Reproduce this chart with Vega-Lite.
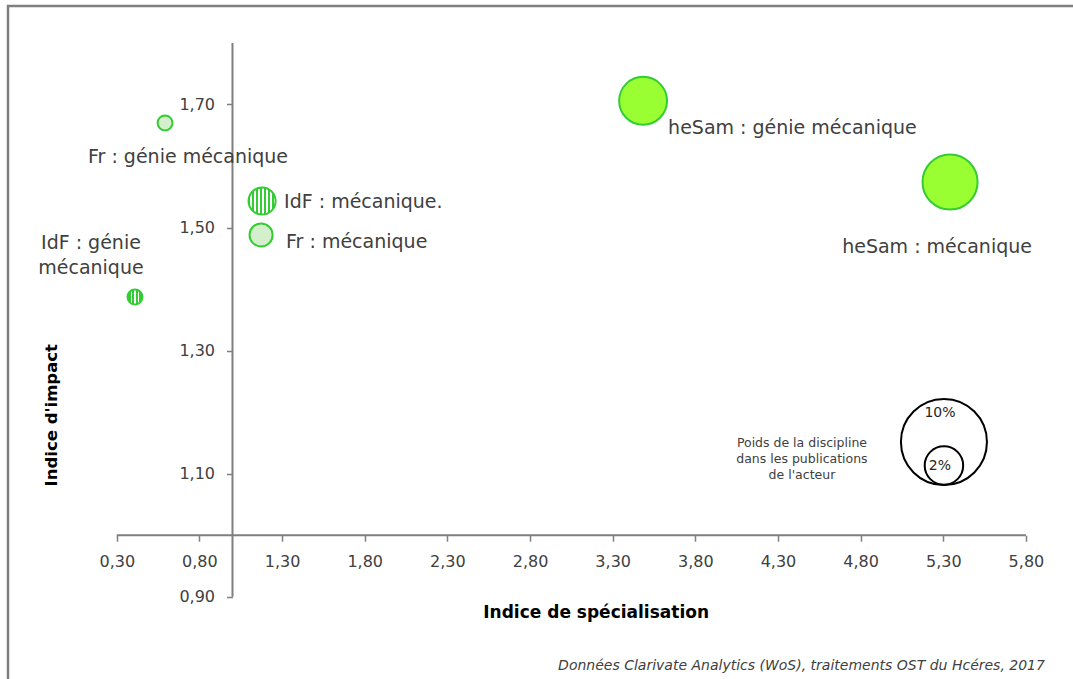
{
  "$schema": "https://vega.github.io/schema/vega-lite/v6.json",
  "width": 1070,
  "height": 680,
  "autosize": {"type": "none"},
  "padding": {"left": 8, "top": 6, "right": 0, "bottom": 0},
  "background": "white",
  "config": {
    "view": {"stroke": "#7f7f7f", "strokeWidth": 2.5},
    "font": "DejaVu Sans",
    "text": {"font": "DejaVu Sans"}
  },
  "datasets": {
    "bulles": [
      {"label": "Fr : génie mécanique", "specialisation": 0.592, "impact": 1.670, "poids": 0.30, "motif": "points"},
      {"label": "IdF : mécanique.", "specialisation": 1.179, "impact": 1.543, "poids": 0.99, "motif": "rayures"},
      {"label": "Fr : mécanique", "specialisation": 1.173, "impact": 1.488, "poids": 0.72, "motif": "points"},
      {"label": "IdF : génie\nmécanique", "specialisation": 0.410, "impact": 1.387, "poids": 0.30, "motif": "rayures fines"},
      {"label": "heSam : génie mécanique", "specialisation": 3.484, "impact": 1.706, "poids": 3.1, "motif": "plein"},
      {"label": "heSam : mécanique", "specialisation": 5.341, "impact": 1.574, "poids": 4.1, "motif": "plein"}
    ],
    "legende": [
      {"label": "10%", "specialisation": 5.304, "impact": 1.1515, "poids": 10},
      {"label": "2%", "specialisation": 5.304, "impact": 1.1133, "poids": 2}
    ]
  },
  "encoding": {
    "x": {
      "field": "specialisation",
      "type": "quantitative",
      "scale": {"domain": [-0.358, 6.115], "nice": false, "zero": false},
      "axis": {
        "values": [0.3, 0.8, 1.3, 1.8, 2.3, 2.8, 3.3, 3.8, 4.3, 4.8, 5.3, 5.8],
        "labelExpr": "replace(format(datum.value, '.2f'), '.', ',')",
        "domain": false, "grid": false, "offset": -150.8,
        "tickSize": 6, "tickColor": "#7f7f7f", "tickWidth": 1.5,
        "labelFontSize": 16, "labelColor": "#404040", "labelPadding": 12,
        "labelFont": "DejaVu Sans", "title": null
      }
    },
    "y": {
      "field": "impact",
      "type": "quantitative",
      "scale": {"domain": [0.755, 1.86], "nice": false, "zero": false},
      "axis": {
        "values": [0.9, 1.1, 1.3, 1.5, 1.7],
        "labelExpr": "replace(format(datum.value, '.2f'), '.', ',')",
        "domain": false, "grid": false, "offset": -224.5,
        "tickSize": 6, "tickColor": "#7f7f7f", "tickWidth": 1.5,
        "labelFontSize": 16, "labelColor": "#404040", "labelPadding": 12,
        "labelFont": "DejaVu Sans", "title": null
      }
    },
    "size": {
      "field": "poids",
      "type": "quantitative",
      "scale": {"type": "linear", "domain": [0, 10], "range": [0, 7400], "zero": true},
      "legend": null
    }
  },
  "layer": [
    {
      "data": {"name": "legende"},
      "transform": [{"filter": "datum.label === '10%'"}],
      "mark": {"type": "rule", "color": "#7f7f7f", "strokeWidth": 2},
      "encoding": {"x": {"datum": 0.3, "type": "quantitative"}, "x2": {"datum": 5.8}, "y": {"datum": 1.0, "type": "quantitative"}, "size": {"value": 2}}
    },
    {
      "data": {"name": "legende"},
      "transform": [{"filter": "datum.label === '10%'"}],
      "mark": {"type": "rule", "color": "#7f7f7f", "strokeWidth": 2},
      "encoding": {"x": {"datum": 1.0, "type": "quantitative"}, "y": {"datum": 0.9, "type": "quantitative"}, "y2": {"datum": 1.8}, "size": {"value": 2}}
    },
    {
      "data": {"name": "bulles"},
      "transform": [{"filter": "datum.motif === 'plein'"}],
      "mark": {"type": "circle", "fill": "#99ff33", "stroke": "#33cc33", "strokeWidth": 2, "opacity": 1}
    },
    {
      "data": {"name": "bulles"},
      "transform": [{"filter": "datum.motif === 'points'"}],
      "mark": {"type": "circle", "fill": "#d3efcb", "stroke": "#33cc33", "strokeWidth": 2, "opacity": 1}
    },
    {
      "data": {"name": "bulles"},
      "transform": [{"filter": "datum.motif === 'rayures'"}],
      "mark": {
        "type": "circle", "stroke": "#33cc33", "strokeWidth": 2, "opacity": 1,
        "fill": {
          "gradient": "linear", "x1": 0, "y1": 0, "x2": 1, "y2": 0,
          "stops": [
            {"offset": 0, "color": "#33cc33"}, {"offset": 0.0714, "color": "#33cc33"},
            {"offset": 0.0714, "color": "#ffffff"}, {"offset": 0.1429, "color": "#ffffff"},
            {"offset": 0.1429, "color": "#33cc33"}, {"offset": 0.2143, "color": "#33cc33"},
            {"offset": 0.2143, "color": "#ffffff"}, {"offset": 0.2857, "color": "#ffffff"},
            {"offset": 0.2857, "color": "#33cc33"}, {"offset": 0.3571, "color": "#33cc33"},
            {"offset": 0.3571, "color": "#ffffff"}, {"offset": 0.4286, "color": "#ffffff"},
            {"offset": 0.4286, "color": "#33cc33"}, {"offset": 0.5, "color": "#33cc33"},
            {"offset": 0.5, "color": "#ffffff"}, {"offset": 0.5714, "color": "#ffffff"},
            {"offset": 0.5714, "color": "#33cc33"}, {"offset": 0.6429, "color": "#33cc33"},
            {"offset": 0.6429, "color": "#ffffff"}, {"offset": 0.7143, "color": "#ffffff"},
            {"offset": 0.7143, "color": "#33cc33"}, {"offset": 0.7857, "color": "#33cc33"},
            {"offset": 0.7857, "color": "#ffffff"}, {"offset": 0.8571, "color": "#ffffff"},
            {"offset": 0.8571, "color": "#33cc33"}, {"offset": 0.9286, "color": "#33cc33"},
            {"offset": 0.9286, "color": "#ffffff"}, {"offset": 1, "color": "#ffffff"}
          ]
        }
      }
    },
    {
      "data": {"name": "bulles"},
      "transform": [{"filter": "datum.motif === 'rayures fines'"}],
      "mark": {
        "type": "circle", "stroke": "#33cc33", "strokeWidth": 2, "opacity": 1,
        "fill": {
          "gradient": "linear", "x1": 0, "y1": 0, "x2": 1, "y2": 0,
          "stops": [
            {"offset": 0, "color": "#33cc33"}, {"offset": 0.24, "color": "#33cc33"},
            {"offset": 0.24, "color": "#ffffff"}, {"offset": 0.33, "color": "#ffffff"},
            {"offset": 0.33, "color": "#33cc33"}, {"offset": 0.46, "color": "#33cc33"},
            {"offset": 0.46, "color": "#ffffff"}, {"offset": 0.55, "color": "#ffffff"},
            {"offset": 0.55, "color": "#33cc33"}, {"offset": 0.68, "color": "#33cc33"},
            {"offset": 0.68, "color": "#ffffff"}, {"offset": 0.77, "color": "#ffffff"},
            {"offset": 0.77, "color": "#33cc33"}, {"offset": 1, "color": "#33cc33"}
          ]
        }
      }
    },
    {
      "data": {"name": "legende"},
      "mark": {"type": "circle", "fill": null, "stroke": "#000000", "strokeWidth": 2, "opacity": 1, "filled": false}
    },
    {
      "data": {"name": "bulles"},
      "transform": [{"filter": "datum.label === 'Fr : génie mécanique'"}],
      "mark": {"type": "text", "fontSize": 19, "color": "#404040", "align": "center", "baseline": "middle", "dx": 23, "dy": 34},
      "encoding": {"text": {"field": "label"}, "size": {"value": 19}}
    },
    {
      "data": {"name": "bulles"},
      "transform": [{"filter": "datum.label === 'IdF : mécanique.'"}],
      "mark": {"type": "text", "fontSize": 19, "color": "#404040", "align": "left", "baseline": "middle", "dx": 22, "dy": 1},
      "encoding": {"text": {"field": "label"}, "size": {"value": 19}}
    },
    {
      "data": {"name": "bulles"},
      "transform": [{"filter": "datum.label === 'Fr : mécanique'"}],
      "mark": {"type": "text", "fontSize": 19, "color": "#404040", "align": "left", "baseline": "middle", "dx": 25, "dy": 7},
      "encoding": {"text": {"field": "label"}, "size": {"value": 19}}
    },
    {
      "data": {"name": "bulles"},
      "transform": [{"filter": "datum.motif === 'rayures fines'"}],
      "mark": {"type": "text", "fontSize": 19, "color": "#404040", "align": "center", "baseline": "middle", "dx": -44, "dy": -54, "lineBreak": "\n", "lineHeight": 25},
      "encoding": {"text": {"field": "label"}, "size": {"value": 19}}
    },
    {
      "data": {"name": "bulles"},
      "transform": [{"filter": "datum.label === 'heSam : génie mécanique'"}],
      "mark": {"type": "text", "fontSize": 19, "color": "#404040", "align": "left", "baseline": "middle", "dx": 25, "dy": 27},
      "encoding": {"text": {"field": "label"}, "size": {"value": 19}}
    },
    {
      "data": {"name": "bulles"},
      "transform": [{"filter": "datum.label === 'heSam : mécanique'"}],
      "mark": {"type": "text", "fontSize": 19, "color": "#404040", "align": "center", "baseline": "middle", "dx": -13, "dy": 65},
      "encoding": {"text": {"field": "label"}, "size": {"value": 19}}
    },
    {
      "data": {"name": "legende"},
      "transform": [{"filter": "datum.label === '10%'"}],
      "mark": {"type": "text", "fontSize": 14, "color": "#262626", "align": "center", "baseline": "middle", "dx": -4, "dy": -29},
      "encoding": {"text": {"field": "label"}, "size": {"value": 14}}
    },
    {
      "data": {"name": "legende"},
      "transform": [{"filter": "datum.label === '2%'"}],
      "mark": {"type": "text", "fontSize": 14, "color": "#262626", "align": "center", "baseline": "middle", "dx": -4, "dy": 0},
      "encoding": {"text": {"field": "label"}, "size": {"value": 14}}
    },
    {
      "data": {"name": "legende"},
      "transform": [{"filter": "datum.label === '10%'"}],
      "mark": {"type": "text", "fontSize": 12.5, "color": "#404040", "align": "center", "baseline": "middle", "dx": -142, "dy": 1, "lineBreak": "\n", "lineHeight": 16},
      "encoding": {"text": {"value": "Poids de la discipline\ndans les publications\nde l'acteur"}, "size": {"value": 12.5}}
    },
    {
      "data": {"name": "legende"},
      "transform": [{"filter": "datum.label === '10%'"}],
      "mark": {"type": "text", "fontSize": 17, "fontWeight": "bold", "color": "#000000", "align": "center", "baseline": "middle"},
      "encoding": {"x": {"datum": 3.2, "type": "quantitative"}, "y": {"datum": 0.8736, "type": "quantitative"}, "text": {"value": "Indice de spécialisation"}, "size": {"value": 17}}
    },
    {
      "data": {"name": "legende"},
      "transform": [{"filter": "datum.label === '10%'"}],
      "mark": {"type": "text", "fontSize": 16.5, "fontWeight": "bold", "color": "#000000", "align": "center", "baseline": "middle", "angle": 270},
      "encoding": {"x": {"datum": -0.092, "type": "quantitative"}, "y": {"datum": 1.195, "type": "quantitative"}, "text": {"value": "Indice d'impact"}, "size": {"value": 16.5}}
    },
    {
      "data": {"name": "legende"},
      "transform": [{"filter": "datum.label === '10%'"}],
      "mark": {"type": "text", "fontSize": 14, "fontStyle": "italic", "color": "#404040", "align": "right", "baseline": "middle"},
      "encoding": {"x": {"datum": 5.915, "type": "quantitative"}, "y": {"datum": 0.7875, "type": "quantitative"}, "text": {"value": "Données Clarivate Analytics (WoS), traitements OST du Hcéres, 2017"}, "size": {"value": 14}}
    }
  ]
}
